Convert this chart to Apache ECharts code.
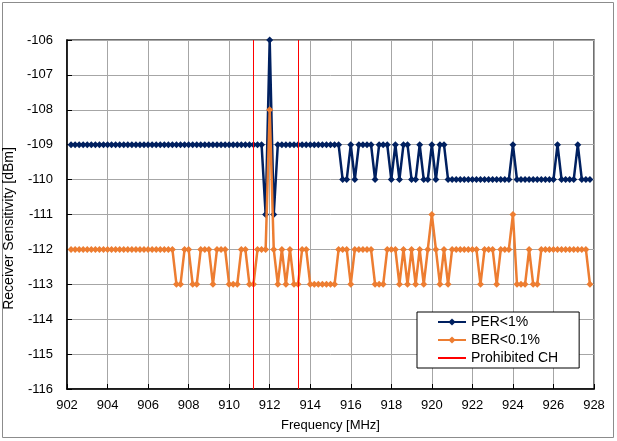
<!DOCTYPE html>
<html>
<head>
<meta charset="utf-8">
<script src="https://cdn.jsdelivr.net/npm/echarts@6/dist/echarts.min.js"></script>
<style>
  html, body { margin: 0; padding: 0; background: #ffffff; }
  #chart { width: 617px; height: 441px; }
</style>
</head>
<body>
<div id="chart"></div>
<script>
// Channel centre frequencies [MHz]
const frequencyMHz = [
  902.2, 902.4, 902.6, 902.8,
  903.0, 903.2, 903.4, 903.6, 903.8,
  904.0, 904.2, 904.4, 904.6, 904.8,
  905.0, 905.2, 905.4, 905.6, 905.8,
  906.0, 906.2, 906.4, 906.6, 906.8,
  907.0, 907.2, 907.4, 907.6, 907.8,
  908.0, 908.2, 908.4, 908.6, 908.8,
  909.0, 909.2, 909.4, 909.6, 909.8,
  910.0, 910.2, 910.4, 910.6, 910.8,
  911.0, 911.2, 911.4, 911.6, 911.8,
  912.0, 912.2, 912.4, 912.6, 912.8,
  913.0, 913.2, 913.4, 913.6, 913.8,
  914.0, 914.2, 914.4, 914.6, 914.8,
  915.0, 915.2, 915.4, 915.6, 915.8,
  916.0, 916.2, 916.4, 916.6, 916.8,
  917.0, 917.2, 917.4, 917.6, 917.8,
  918.0, 918.2, 918.4, 918.6, 918.8,
  919.0, 919.2, 919.4, 919.6, 919.8,
  920.0, 920.2, 920.4, 920.6, 920.8,
  921.0, 921.2, 921.4, 921.6, 921.8,
  922.0, 922.2, 922.4, 922.6, 922.8,
  923.0, 923.2, 923.4, 923.6, 923.8,
  924.0, 924.2, 924.4, 924.6, 924.8,
  925.0, 925.2, 925.4, 925.6, 925.8,
  926.0, 926.2, 926.4, 926.6, 926.8,
  927.0, 927.2, 927.4, 927.6, 927.8
];

// Receiver sensitivity at PER < 1% [dBm]
const perSensitivity = [
  -109, -109, -109, -109,
  -109, -109, -109, -109, -109,
  -109, -109, -109, -109, -109,
  -109, -109, -109, -109, -109,
  -109, -109, -109, -109, -109,
  -109, -109, -109, -109, -109,
  -109, -109, -109, -109, -109,
  -109, -109, -109, -109, -109,
  -109, -109, -109, -109, -109,
  -109, -109, -109, -109, -111,
  -106, -111, -109, -109, -109,
  -109, -109, -109, -109, -109,
  -109, -109, -109, -109, -109,
  -109, -109, -109, -110, -110,
  -109, -110, -109, -109, -109,
  -109, -110, -109, -109, -109,
  -110, -109, -110, -109, -109,
  -110, -110, -109, -110, -110,
  -109, -110, -109, -109, -110,
  -110, -110, -110, -110, -110,
  -110, -110, -110, -110, -110,
  -110, -110, -110, -110, -110,
  -109, -110, -110, -110, -110,
  -110, -110, -110, -110, -110,
  -110, -109, -110, -110, -110,
  -110, -109, -110, -110, -110
];

// Receiver sensitivity at BER < 0.1% [dBm]
const berSensitivity = [
  -112, -112, -112, -112,
  -112, -112, -112, -112, -112,
  -112, -112, -112, -112, -112,
  -112, -112, -112, -112, -112,
  -112, -112, -112, -112, -112,
  -112, -112, -113, -113, -112,
  -112, -113, -113, -112, -112,
  -112, -113, -112, -112, -112,
  -113, -113, -113, -112, -112,
  -113, -113, -112, -112, -112,
  -108, -112, -113, -112, -113,
  -112, -113, -113, -112, -112,
  -113, -113, -113, -113, -113,
  -113, -113, -112, -112, -112,
  -113, -112, -112, -112, -112,
  -112, -113, -113, -113, -112,
  -112, -112, -113, -112, -113,
  -112, -113, -112, -113, -112,
  -111, -112, -113, -112, -113,
  -112, -112, -112, -112, -112,
  -112, -112, -113, -112, -112,
  -112, -113, -112, -112, -112,
  -111, -113, -113, -113, -112,
  -113, -113, -112, -112, -112,
  -112, -112, -112, -112, -112,
  -112, -112, -112, -112, -113
];

// Edges of the prohibited channel band [MHz]
const prohibitedEdges = [911.2, 913.4];

const seriesNames = ['PER<1%', 'BER<0.1%', 'Prohibited CH'];
const xRange = { min: 902, max: 928, step: 2 };
const yRange = { min: -116, max: -106, step: 1 };

const FONT = '"Liberation Sans", Arial, sans-serif';
const NAVY = '#002060';
const ORANGE = '#ED7D31';
const RED = '#FF0000';

const perPoints = frequencyMHz.map((f, i) => [f, perSensitivity[i]]);
const berPoints = frequencyMHz.map((f, i) => [f, berSensitivity[i]]);

const chart = echarts.init(document.getElementById('chart'), null, { renderer: 'canvas' });

chart.setOption({
  animation: false,
  backgroundColor: '#ffffff',
  textStyle: { fontFamily: FONT, color: '#000' },
  graphic: [{
    type: 'rect',
    silent: true,
    shape: { x: 2.5, y: 2.5, width: 611, height: 435 },
    style: { fill: 'none', stroke: '#8c8c8c', lineWidth: 1 }
  }],
  grid: {
    left: 67, right: 23, top: 40, bottom: 52,
    containLabel: false,
    outerBoundsMode: 'none',
    show: true, backgroundColor: 'transparent',
    borderColor: '#404040', borderWidth: 1.5
  },
  legend: {
    orient: 'vertical',
    left: 417, top: 312,
    padding: [3, 21, 3, 20],
    itemGap: 4,
    itemWidth: 28, itemHeight: 9,
    backgroundColor: '#ffffff',
    borderColor: '#000000', borderWidth: 1,
    textStyle: { fontFamily: FONT, fontSize: 14, color: '#000', lineHeight: 14 },
    data: [
      seriesNames[0],
      seriesNames[1],
      { name: seriesNames[2], itemStyle: { opacity: 0 } }
    ]
  },
  xAxis: {
    type: 'value',
    min: xRange.min, max: xRange.max, interval: xRange.step,
    name: 'Frequency [MHz]',
    nameLocation: 'middle', nameGap: 30,
    nameTextStyle: { fontFamily: FONT, fontSize: 13, color: '#000' },
    axisLine: { show: true, onZero: false, lineStyle: { color: '#000', width: 1.5 } },
    axisTick: { show: true, inside: true, length: 5, lineStyle: { color: '#000' } },
    axisLabel: { margin: 10, fontFamily: FONT, fontSize: 13, color: '#000' },
    splitLine: { show: true, lineStyle: { color: '#a6a6a6', width: 1 } }
  },
  yAxis: {
    type: 'value',
    min: yRange.min, max: yRange.max, interval: yRange.step,
    name: 'Receiver Sensitivity [dBm]',
    nameLocation: 'middle', nameGap: 42, nameRotate: 90,
    nameTextStyle: {
      fontFamily: FONT, fontSize: 14, color: '#000',
      padding: [0, 28, 0, 0]
    },
    axisLine: { show: true, onZero: false, lineStyle: { color: '#000', width: 1.5 } },
    axisTick: { show: true, inside: true, length: 5, lineStyle: { color: '#000' } },
    axisLabel: { margin: 14, fontFamily: FONT, fontSize: 13, color: '#000' },
    splitLine: { show: true, lineStyle: { color: '#a6a6a6', width: 1 } }
  },
  series: [
    {
      name: seriesNames[0],
      type: 'line',
      data: perPoints,
      z: 3,
      symbol: 'diamond', symbolSize: 7,
      lineStyle: { color: NAVY, width: 2.5 },
      itemStyle: { color: NAVY }
    },
    {
      name: seriesNames[1],
      type: 'line',
      data: berPoints,
      z: 4,
      symbol: 'diamond', symbolSize: 7,
      lineStyle: { color: ORANGE, width: 2.5 },
      itemStyle: { color: ORANGE }
    },
    {
      name: seriesNames[2],
      type: 'line',
      data: [],
      z: 2,
      symbol: 'none',
      lineStyle: { color: RED, width: 1 },
      itemStyle: { color: RED },
      markLine: {
        silent: true,
        symbol: ['none', 'none'],
        label: { show: false },
        lineStyle: { color: RED, width: 1, type: 'solid' },
        data: prohibitedEdges.map(v => ({ xAxis: v }))
      }
    }
  ]
});
</script>
</body>
</html>
